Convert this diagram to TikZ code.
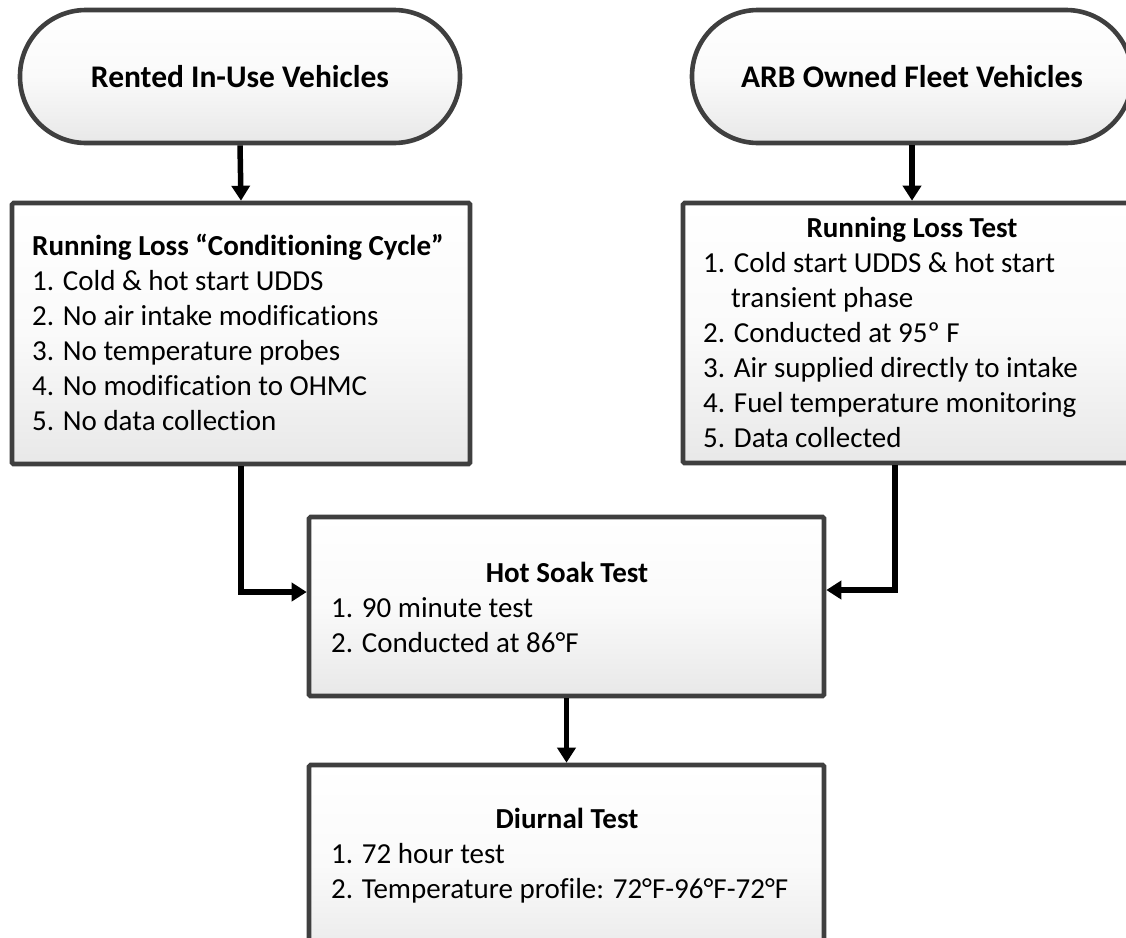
\documentclass[tikz,border=0pt]{standalone}
\usepackage{fontspec}
\setmainfont{Carlito}[Ligatures={NoCommon,NoContextual}]
\usetikzlibrary{arrows.meta}
\definecolor{boxgray}{HTML}{3F3F3F}
\begin{document}
\begin{tikzpicture}[x=1pt,y=-1pt,
  boxstyle/.style={draw=boxgray, line width=4.6pt, top color=white, bottom color=black!9, middle color=black!2, rounded corners=1.5pt, inner sep=0pt},
  stadium/.style={boxstyle, rounded corners=66pt},
  conn/.style={line width=5.5pt, -{Triangle[length=15pt,width=18pt]}},
  body/.style={font=\fontsize{29}{35}\selectfont, inner sep=0pt, anchor=base west},
  ttl/.style={font=\fontsize{29}{35}\selectfont\bfseries, inner sep=0pt},
  big/.style={font=\fontsize{31.5}{38}\selectfont\bfseries, inner sep=0pt, anchor=base}]
\useasboundingbox (0,0) rectangle (1126,937);
\clip (0,0) rectangle (1126,937);

% shapes
\node[stadium, minimum width=440pt, minimum height=133pt] (stadL) at (240,76.5) {};
\node[stadium, minimum width=440pt, minimum height=133pt] (stadR) at (912,76.5) {};
\node[boxstyle, minimum width=458pt, minimum height=261pt] (boxL) at (241,333.5) {};
\node[boxstyle, minimum width=458pt, minimum height=260pt] (boxR) at (912,333) {};
\node[boxstyle, minimum width=515pt, minimum height=179pt] (hot) at (566.5,606.5) {};
\node[boxstyle, minimum width=515pt, minimum height=200pt] (diur) at (566.5,865) {};

% texts
\node[big] (tL) at (240,87) {Rented In-Use Vehicles};
\node[big] (tR) at (912,87) {ARB Owned Fleet Vehicles};

\node[ttl, anchor=base west] (lT) at (32,255) {Running Loss “Conditioning Cycle”};
\node[body] (l1) at (32,290) {1. Cold \& hot start UDDS};
\node[body] (l2) at (32,325) {2. No air intake modifications};
\node[body] (l3) at (32,360) {3. No temperature probes};
\node[body] (l4) at (32,395) {4. No modification to OHMC};
\node[body] (l5) at (32,430) {5. No data collection};

\node[ttl, anchor=base] (rT) at (912,237) {Running Loss Test};
\node[body] (r1) at (703,272) {1. Cold start UDDS \& hot start};
\node[body] (r1b) at (731,307) {transient phase};
\node[body] (r2) at (703,342) {2. Conducted at 95º F};
\node[body] (r3) at (703,377) {3. Air supplied directly to intake};
\node[body] (r4) at (703,412) {4. Fuel temperature monitoring};
\node[body] (r5) at (703,447) {5. Data collected};

\node[ttl, anchor=base] (hT) at (567,582) {Hot Soak Test};
\node[body] (h1) at (331,617) {1. 90 minute test};
\node[body] (h2) at (331,652) {2. Conducted at 86°F};

\node[ttl, anchor=base] (dT) at (567,828) {Diurnal Test};
\node[body] (d1) at (331,863) {1. 72 hour test};
\node[body] (d2) at (331,898) {2. Temperature profile: 72°F-96°F-72°F};

% connectors
\draw[conn] (stadL.south) -- (boxL.north);
\draw[conn] (stadR.south) -- (boxR.north);
\draw[conn] (boxL.south) |- ([yshift=14.5pt]hot.west);
\draw[conn] ([xshift=-17pt]boxR.south) |- ([yshift=16.5pt]hot.east);
\draw[conn] (hot.south) -- (diur.north);
\end{tikzpicture}
\end{document}
